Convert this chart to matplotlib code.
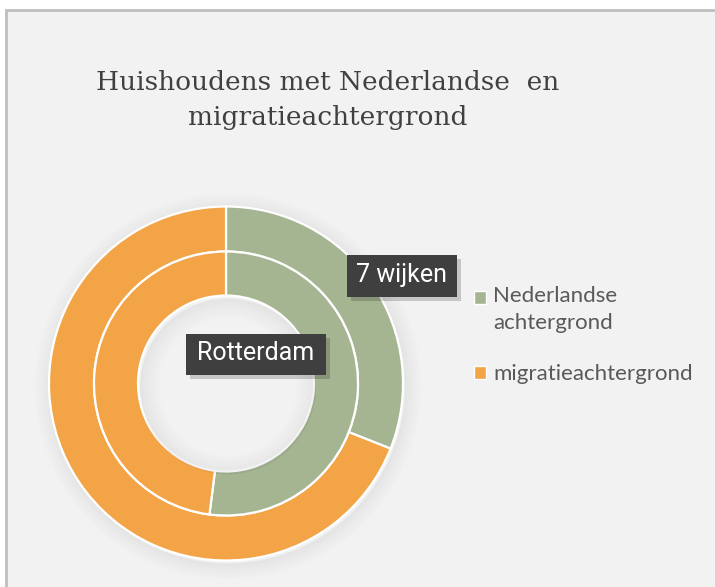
import matplotlib

matplotlib.use("Agg")
import matplotlib.pyplot as plt
from matplotlib.patches import Patch, Rectangle, Wedge

# data (percent of households)
categories = ["Nederlandse\nachtergrond", "migratieachtergrond"]
wijken = [31, 69]        # outer ring: 7 wijken
rotterdam = [52, 48]     # inner ring: Rotterdam
ring_names = ["7 wijken", "Rotterdam"]
colors = ["#A5B592", "#F3A447"]

W, H = 715, 587
fig = plt.figure(figsize=(W / 100, H / 100), dpi=100)
fig.patch.set_facecolor("white")
ax = fig.add_axes([0, 0, 1, 1])
ax.set_xlim(0, W)
ax.set_ylim(0, H)
ax.set_aspect("equal")
ax.axis("off")

# chart area with its grey border (top and left edge visible)
ax.add_patch(Rectangle((6, -5), W + 10, H - 9 + 5 - 0.5, fc="#F2F2F2",
                       ec="#BFBFBF", lw=2, zorder=0))

cx, cy = 226, H - 383.5
r_out, r_mid, r_in = 177, 132, 88

# soft shadow round the rings and inside the hole
for i in range(14):
    ax.add_patch(Wedge((cx + 2, cy - 3), r_out + 1 + i * 1.2, 0, 360,
                       width=1.3, fc="black", ec="none",
                       alpha=0.05 * (1 - i / 14), zorder=1))
    ax.add_patch(Wedge((cx + 2, cy - 3), r_in - i * 1.4, 0, 360,
                       width=1.5, fc="black", ec="none",
                       alpha=0.05 * (1 - i / 14), zorder=3))

wedge_kw = dict(edgecolor="white", linewidth=1.6)
ax.pie(wijken, colors=colors, radius=r_out, center=(cx, cy), startangle=90,
       counterclock=False, frame=True,
       wedgeprops=dict(width=r_out - r_mid, **wedge_kw))
ax.pie(rotterdam, colors=colors, radius=r_mid, center=(cx, cy),
       startangle=90, counterclock=False, frame=True,
       wedgeprops=dict(width=r_mid - r_in, **wedge_kw))
for w in ax.patches[-4:]:
    w.set_zorder(2)
ax.set_xlim(0, W)
ax.set_ylim(0, H)
ax.axis("off")

# dark callout labels for the two rings
boxes = {"7 wijken": (347, 255, 110, 42), "Rotterdam": (186, 334, 140, 41)}
for name in ring_names:
    x0, y0, bw, bh = boxes[name]
    ax.add_patch(Rectangle((x0 + 4, H - y0 - bh - 4), bw, bh, fc="black",
                           ec="none", alpha=0.18, zorder=4))
    ax.add_patch(Rectangle((x0, H - y0 - bh), bw, bh, fc="#3F3F3F",
                           ec="none", zorder=5))
    ax.text(x0 + bw / 2, H - y0 - bh / 2 + 1, name, color="white",
            fontsize=18, family=["Roboto", "DejaVu Sans"], ha="center",
            va="center", zorder=6)

fig.text(328 / W, 1 - 100 / H,
         "Huishoudens met Nederlandse  en\nmigratieachtergrond",
         ha="center", va="center", fontsize=19, family="DejaVu Serif",
         color="#404040", linespacing=1.45)

handles = [Patch(facecolor=c, edgecolor="white") for c in colors]
leg = fig.legend(handles, categories, loc="upper left",
                 bbox_to_anchor=(454 / W, 1 - 266 / H), frameon=False,
                 prop={"family": "Lato", "size": 16},
                 labelcolor="#595959",
                 handlelength=0.55, handleheight=0.55, handletextpad=0.3,
                 labelspacing=1.4)
for t in leg.get_texts():
    t.set_linespacing(1.45)
# put the green marker next to the first line of its two-line label
first = leg.legend_handles[0]
first.set_y(first.get_y() + 9)

fig.savefig("out.png", dpi=100, facecolor=fig.get_facecolor())
